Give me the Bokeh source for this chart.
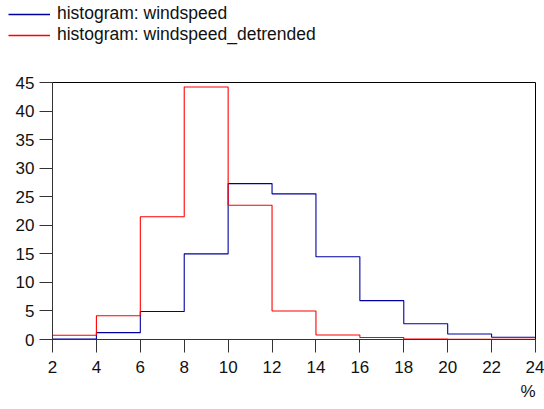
from bokeh.plotting import figure
from bokeh.layouts import column
from bokeh.models import Range1d, Legend, LegendItem, Title, FixedTicker
from bokeh.embed import file_html
from bokeh.resources import INLINE

# bin edges (%) and histogram values
bin_edges = [2, 4, 6, 8, 10, 12, 14, 16, 18, 20, 22, 24]
windspeed = [0.1, 1.2, 4.9, 15.0, 27.3, 25.5, 14.5, 6.8, 2.75, 0.95, 0.4]
windspeed_detrended = [0.75, 4.15, 21.5, 44.2, 23.5, 5.0, 0.8, 0.35, 0.1, 0.05, 0.05]
x_ticks = [2, 4, 6, 8, 10, 12, 14, 16, 18, 20, 22, 24]
y_ticks = [0, 5, 10, 15, 20, 25, 30, 35, 40, 45]
series_labels = ["histogram: windspeed", "histogram: windspeed_detrended"]
series_colors = ["#0000A0", "#FF0000"]
series_values = [windspeed, windspeed_detrended]

FONT = "Liberation Sans"

# ---- legend strip (separate figure so the legend is not clipped) ----
lg = figure(width=544, height=45, output_backend="svg", toolbar_location=None,
            x_range=Range1d(2, 24), y_range=Range1d(-100, -90),
            min_border=0, min_border_left=0, min_border_right=0,
            min_border_top=0, min_border_bottom=0)
lg.frame_align = False
lg.xaxis.visible = False
lg.yaxis.visible = False
lg.xgrid.visible = False
lg.ygrid.visible = False
lg.outline_line_color = None
legend_renderers = [lg.line(x=bin_edges[:-1], y=vals, line_color=c, line_width=1.4)
                    for vals, c in zip(series_values, series_colors)]
legend = Legend(items=[LegendItem(label=t, renderers=[r])
                       for t, r in zip(series_labels, legend_renderers)],
                location=(8, 0), padding=0, margin=0, spacing=0,
                glyph_width=42, glyph_height=18, label_height=18, label_standoff=7,
                label_text_font=FONT, label_text_font_size="17.5px", label_text_color="#111111",
                border_line_alpha=0, background_fill_alpha=0)
lg.add_layout(legend, "center")

# ---- main chart ----
p = figure(width=544, height=364, output_backend="svg", toolbar_location=None,
           x_range=Range1d(2, 24), y_range=Range1d(0, 45),
           min_border_left=52, min_border_right=9, min_border_top=37, min_border_bottom=70)
p.frame_align = False

p.xgrid.visible = False
p.ygrid.visible = False
p.outline_line_color = "black"
p.outline_line_width = 1

for vals, c in zip(series_values, series_colors):
    p.step(x=bin_edges, y=vals + [vals[-1]], mode="after", line_color=c, line_width=1.1)

for ax in (p.xaxis[0], p.yaxis[0]):
    ax.major_tick_in = 0
    ax.major_tick_out = 13
    ax.minor_tick_line_color = None
    ax.axis_line_color = "#333333"
    ax.major_tick_line_color = "#333333"
    ax.major_label_text_font = FONT
    ax.major_label_text_font_size = "17px"
    ax.major_label_text_color = "#111111"

p.xaxis[0].ticker = FixedTicker(ticks=x_ticks)
p.yaxis[0].ticker = FixedTicker(ticks=y_ticks)
p.xaxis[0].major_label_standoff = 8
p.yaxis[0].major_label_standoff = 5

p.add_layout(Title(text="%", align="right", text_font=FONT, text_font_size="17px",
                   text_font_style="normal", text_color="#111111", standoff=8), "below")

layout = column(lg, p, spacing=0)
open("out.html", "w").write(file_html(layout, INLINE))
